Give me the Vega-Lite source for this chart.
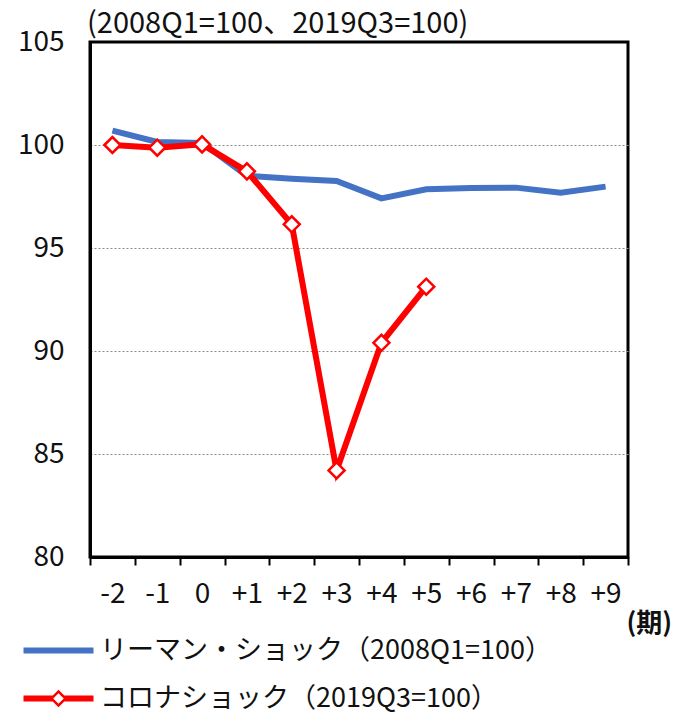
{
  "$schema": "https://vega.github.io/schema/vega-lite/v6.json",
  "autosize": "none",
  "width": 538,
  "height": 515,
  "padding": {"left": 90, "top": 42, "right": 48, "bottom": 159},
  "background": "white",
  "config": {
    "font": "Noto Sans CJK JP",
    "view": {"stroke": "black", "strokeWidth": 3},
    "axis": {"labelFont": "Noto Sans CJK JP", "labelColor": "#111", "labelFontSize": 28}
  },
  "title": {
    "text": "(2008Q1=100、2019Q3=100)",
    "anchor": "start",
    "frame": "group",
    "fontSize": 29,
    "fontWeight": "normal",
    "color": "#111",
    "offset": 6,
    "dx": -3,
    "dy": 17
  },
  "data": {
    "values": [
      {"period": "-2", "value": 100.7, "series": "リーマン・ショック（2008Q1=100）"},
      {"period": "-1", "value": 100.15, "series": "リーマン・ショック（2008Q1=100）"},
      {"period": "0", "value": 100.1, "series": "リーマン・ショック（2008Q1=100）"},
      {"period": "+1", "value": 98.5, "series": "リーマン・ショック（2008Q1=100）"},
      {"period": "+2", "value": 98.36, "series": "リーマン・ショック（2008Q1=100）"},
      {"period": "+3", "value": 98.25, "series": "リーマン・ショック（2008Q1=100）"},
      {"period": "+4", "value": 97.41, "series": "リーマン・ショック（2008Q1=100）"},
      {"period": "+5", "value": 97.85, "series": "リーマン・ショック（2008Q1=100）"},
      {"period": "+6", "value": 97.91, "series": "リーマン・ショック（2008Q1=100）"},
      {"period": "+7", "value": 97.93, "series": "リーマン・ショック（2008Q1=100）"},
      {"period": "+8", "value": 97.68, "series": "リーマン・ショック（2008Q1=100）"},
      {"period": "+9", "value": 97.98, "series": "リーマン・ショック（2008Q1=100）"},
      {"period": "-2", "value": 100.0, "series": "コロナショック（2019Q3=100）"},
      {"period": "-1", "value": 99.87, "series": "コロナショック（2019Q3=100）"},
      {"period": "0", "value": 100.03, "series": "コロナショック（2019Q3=100）"},
      {"period": "+1", "value": 98.72, "series": "コロナショック（2019Q3=100）"},
      {"period": "+2", "value": 96.15, "series": "コロナショック（2019Q3=100）"},
      {"period": "+3", "value": 84.2, "series": "コロナショック（2019Q3=100）"},
      {"period": "+4", "value": 90.4, "series": "コロナショック（2019Q3=100）"},
      {"period": "+5", "value": 93.12, "series": "コロナショック（2019Q3=100）"}
    ]
  },
  "encoding": {
    "x": {
      "field": "period",
      "type": "ordinal",
      "sort": null,
      "scale": {
        "type": "band",
        "domain": ["-2", "-1", "0", "+1", "+2", "+3", "+4", "+5", "+6", "+7", "+8", "+9"],
        "paddingInner": 0,
        "paddingOuter": 0
      },
      "axis": {
        "title": "(期)",
        "titleFontSize": 26,
        "titleFontWeight": "bold",
        "titleColor": "#111",
        "titleAlign": "left",
        "titleAnchor": null,
        "titleX": 536,
        "titleY": 66,
        "titleBaseline": "middle",
        "labelAngle": 0,
        "domain": true,
        "domainColor": "black",
        "domainWidth": 3,
        "ticks": true,
        "tickBand": "extent",
        "tickColor": "black",
        "tickWidth": 2,
        "tickSize": 8,
        "labelPadding": 15,
        "grid": false
      }
    },
    "y": {
      "field": "value",
      "type": "quantitative",
      "scale": {"domain": [80, 105], "nice": false, "zero": false},
      "axis": {
        "title": null,
        "values": [80, 85, 90, 95, 100, 105],
        "domain": true,
        "domainColor": "black",
        "domainWidth": 3,
        "ticks": false,
        "labelPadding": 26,
        "grid": true,
        "gridColor": "#8a8a8a",
        "gridDash": [2, 2],
        "gridWidth": 1,
        "gridOpacity": {"condition": {"test": "datum.value === 80 || datum.value === 105", "value": 0}, "value": 1}
      }
    }
  },
  "layer": [
    {
      "transform": [{"filter": "datum.series === 'リーマン・ショック（2008Q1=100）'"}],
      "mark": {"type": "line", "strokeWidth": 6},
      "encoding": {
        "color": {
          "field": "series",
          "type": "nominal",
          "scale": {
            "domain": ["リーマン・ショック（2008Q1=100）", "コロナショック（2019Q3=100）"],
            "range": ["#4472C4", "#FF0000"]
          },
          "legend": {
            "title": null,
            "orient": "none",
            "direction": "vertical",
            "legendX": -49,
            "legendY": 591,
            "padding": 0,
            "symbolType": "M-2,-0.171H2V0.171H-2Z",
            "symbolSize": 1225,
            "symbolStrokeWidth": 0,
            "labelFontSize": 27,
            "labelColor": "#111",
            "labelLimit": 600,
            "labelOffset": 24,
            "rowPadding": 17,
            "encode": {
              "symbols": {
                "update": {
                  "shape": {"signal": "datum.value === 'コロナショック（2019Q3=100）' ? 'M-2,-0.171H-0.33V0.171H-2ZM-0.5,0L0,-0.5L0.5,0L0,0.5ZM-0.3,0L0,0.3L0.3,0L0,-0.3ZM0.33,-0.171H2V0.171H0.33Z' : 'M-2,-0.171H2V0.171H-2Z'"},
                  "fill": {"scale": "color", "field": "value"},
                  "fillOpacity": {"value": 1},
                  "strokeWidth": {"value": 0},
                  "opacity": {"value": 1}
                }
              }
            }
          }
        }
      }
    },
    {
      "transform": [{"filter": "datum.series === 'コロナショック（2019Q3=100）'"}],
      "mark": {"type": "line", "strokeWidth": 6},
      "encoding": {
        "color": {"field": "series", "type": "nominal"}
      }
    },
    {
      "transform": [{"filter": "datum.series === 'コロナショック（2019Q3=100）'"}],
      "mark": {"type": "point", "shape": "diamond", "filled": true, "fill": "white", "stroke": "#FF0000", "strokeWidth": 2.5, "size": 256, "opacity": 1},
      "encoding": {}
    }
  ]
}
